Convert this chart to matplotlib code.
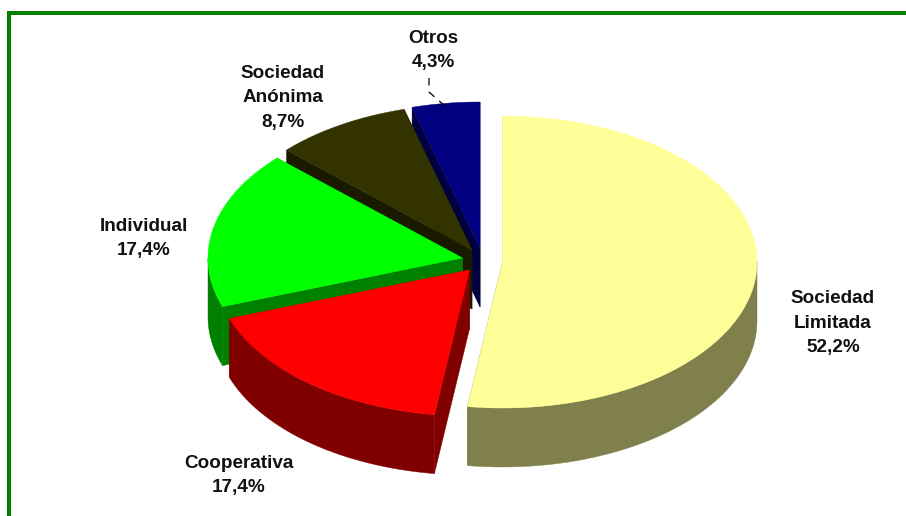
#!/usr/bin/env python
# -*- coding: utf-8 -*-
import numpy as np
import matplotlib
matplotlib.use("Agg")
import matplotlib.pyplot as plt
from matplotlib.patches import Polygon, Rectangle

# data
names = ["Sociedad\nLimitada", "Cooperativa", "Individual", "Sociedad\nAnónima", "Otros"]
shares = [52.2, 17.4, 17.4, 8.7, 4.3]

# style
top_colors = ["#FFFF99", "#FF0000", "#00FF00", "#333300", "#000080"]
side_colors = ["#80804D", "#800000", "#008000", "#1A1A00", "#000040"]
apex = [(502.5, 262), (469.5, 270), (462.5, 258), (472, 250), (480, 248)]
label_pos = [(833, 323), (239, 475.5), (144, 238.5), (283, 98), (433, 50.5)]
rx, ry, depth = 254.5, 146, 59

plt.rcParams['font.family'] = ['Liberation Sans', 'DejaVu Sans']

fig = plt.figure(figsize=(9.06, 5.16), dpi=100, facecolor="white")
ax = fig.add_axes([0, 0, 1, 1])
ax.set_xlim(0, 906)
ax.set_ylim(516, 0)
ax.set_axis_off()

# green frame, top and left only
ax.add_patch(Rectangle((7, 11), 899, 4, color="#008000", lw=0))
ax.add_patch(Rectangle((7, 11), 4, 505, color="#008000", lw=0))


def rim(a, b, c):
    # points on the ellipse, angles clockwise from 12 o'clock
    t = np.radians(np.linspace(a, b, 200))
    return np.column_stack([c[0] + rx * np.sin(t), c[1] - ry * np.cos(t)])


def face(pts, color, z):
    ax.add_patch(Polygon(pts, closed=True, fc=color, ec=color, lw=0.3, zorder=z))


edges = np.concatenate([[0], np.cumsum(shares)]) / sum(shares) * 360

# back slices first, Limitada last
for z, i in enumerate([4, 3, 2, 1, 0]):
    a, b, c = edges[i], edges[i + 1], apex[i]
    base = 10 * (z + 1)
    down = np.array([0, depth])

    # outer wall, only the part facing the viewer
    lo, hi = max(a, 90), min(b, 270)
    if hi > lo:
        arc = rim(lo, hi, c)
        face(np.vstack([arc, arc[::-1] + down]), side_colors[i], base)

    # cut walls
    for ang in (a, b):
        p = rim(ang, ang, c)[0]
        face([c, p, p + down, np.array(c) + down], side_colors[i], base + 1)

    # top
    face(np.vstack([[c], rim(a, b, c)]), top_colors[i], base + 2)

# labels
for i in range(len(shares)):
    txt = names[i] + "\n" + ("%.1f%%" % shares[i]).replace(".", ",")
    ax.text(label_pos[i][0], label_pos[i][1], txt, ha="center", va="center",
            fontsize=13.6, fontweight="bold", color="#111111", linespacing=1.54,
            zorder=100)

# leader line for Otros
ax.plot([429, 429, 445], [78, 92, 106], color="black", lw=0.9,
        dashes=(6, 5), zorder=100)

fig.savefig("out.png", dpi=100, facecolor="white")
